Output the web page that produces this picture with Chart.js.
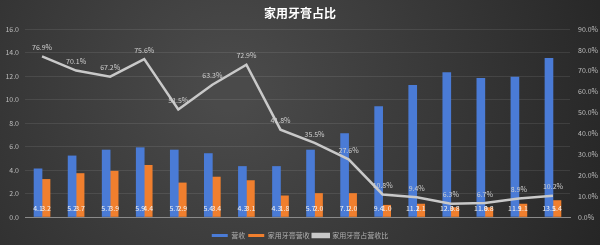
<!DOCTYPE html>
<html>
<head>
<meta charset="utf-8">
<script src="https://cdn.jsdelivr.net/npm/chart.js@4.4.1/dist/chart.umd.min.js"></script>
<style>
  html, body { margin: 0; padding: 0; background: #2c2c2c; }
  #wrap { width: 600px; height: 245px; position: relative; }
</style>
</head>
<body>
<div id="wrap"><canvas id="c" width="600" height="245"></canvas></div>
<script>
// ── Data ───────────────────────────────────────────
const years   = ["2000","2001","2002","2003","2004","2005","2006","2007","2008","2009","2010","2011","2012","2013","2014","2015"];
const revenue = [4.1, 5.2, 5.7, 5.9, 5.7, 5.4, 4.3, 4.3, 5.7, 7.1, 9.4, 11.2, 12.3, 11.8, 11.9, 13.5];
const homeRev = [3.2, 3.7, 3.9, 4.4, 2.9, 3.4, 3.1, 1.8, 2.0, 2.0, 1.0, 1.1, 0.8, 0.8, 1.1, 1.4];
const share   = [76.9, 70.1, 67.2, 75.6, 51.5, 63.3, 72.9, 41.8, 35.5, 27.6, 10.8, 9.4, 6.3, 6.7, 8.9, 10.2];

const FONT = "'Noto Sans CJK SC', 'Noto Sans', sans-serif";

// ── Plugins ────────────────────────────────────────
const bgPlugin = {
  id: "bg",
  afterLayout(chart) {
    // nudge the legend a little lower, closer to the bottom edge
    if (chart.legend) { chart.legend.top += 4; chart.legend.bottom += 4; }
  },
  beforeDraw(chart) {
    const { ctx, width, height } = chart;
    const g = ctx.createRadialGradient(230, 90, 20, 230, 90, 420);
    g.addColorStop(0, "#4a4a4a");
    g.addColorStop(1, "#242424");
    ctx.save();
    ctx.fillStyle = g;
    ctx.fillRect(0, 0, width, height);
    ctx.restore();
  }
};

const labelPlugin = {
  id: "labels",
  afterDatasetsDraw(chart) {
    const { ctx } = chart;
    ctx.save();
    ctx.font = "7px " + FONT;
    ctx.textAlign = "center";
    ctx.textBaseline = "middle";
    // bar values, at the foot of each bar
    [0, 1].forEach(di => {
      const meta = chart.getDatasetMeta(di);
      meta.data.forEach((bar, i) => {
        ctx.fillStyle = "#f2f2f2";
        ctx.fillText(chart.data.datasets[di].data[i].toFixed(1), bar.x, bar.base - 8);
      });
    });
    // line values, above each point
    const lm = chart.getDatasetMeta(2);
    lm.data.forEach((pt, i) => {
      ctx.fillStyle = "#cfcfcf";
      ctx.fillText(share[i].toFixed(1) + "%", pt.x, pt.y - 9);
    });
    ctx.restore();
  }
};

// ── Chart ──────────────────────────────────────────
new Chart(document.getElementById("c"), {
  type: "bar",
  data: {
    labels: years,
    datasets: [
      {
        label: "营收",
        data: revenue,
        backgroundColor: "#4a7bd6",
        barThickness: 8,
        categoryPercentage: 0.6,
        yAxisID: "y",
        order: 2,
      },
      {
        label: "家用牙膏营收",
        data: homeRev,
        backgroundColor: "#f07f2e",
        barThickness: 8,
        categoryPercentage: 0.6,
        yAxisID: "y",
        order: 2,
      },
      {
        type: "line",
        label: "家用牙膏占营收比",
        data: share,
        borderColor: "#c9c9c9",
        backgroundColor: "#c9c9c9",
        borderWidth: 2.5,
        pointRadius: 0,
        tension: 0,
        yAxisID: "y1",
        order: 1,
      },
    ],
  },
  options: {
    responsive: false,
    animation: false,
    layout: { padding: 0 },
    plugins: {
      title: {
        display: true,
        text: "家用牙膏占比",
        color: "#ffffff",
        font: { family: FONT, size: 12, weight: "bold" },
        padding: { top: 6, bottom: 8.6 },
      },
      legend: {
        position: "bottom",
        labels: {
          color: "#b0b0b0",
          font: { family: FONT, size: 7 },
          boxWidth: 16,
          boxHeight: 3,
          padding: 3,
          sort: (a, b) => a.datasetIndex - b.datasetIndex,
        },
      },
      tooltip: { enabled: false },
    },
    scales: {
      x: {
        grid: { display: false },
        border: { color: "#8a8a8a" },
        ticks: { color: "#bdbdbd", font: { family: FONT, size: 7 }, padding: 5 },
        afterFit: s => { s.height = 8; },
      },
      y: {
        position: "left",
        min: 0, max: 16,
        grid: { color: "rgba(255,255,255,0.09)", drawTicks: false },
        border: { display: false },
        ticks: {
          stepSize: 2, color: "#bdbdbd", padding: 6,
          font: { family: FONT, size: 7 },
          callback: v => v.toFixed(1),
        },
        afterFit: s => { s.width = 25; },
      },
      y1: {
        position: "right",
        min: 0, max: 90,
        grid: { display: false, drawTicks: false },
        border: { display: false },
        ticks: {
          stepSize: 10, color: "#bdbdbd", padding: 8,
          font: { family: FONT, size: 7 },
          callback: v => v.toFixed(1) + "%",
        },
        afterFit: s => { s.width = 30; },
      },
    },
  },
  plugins: [bgPlugin, labelPlugin],
});
</script>
</body>
</html>
